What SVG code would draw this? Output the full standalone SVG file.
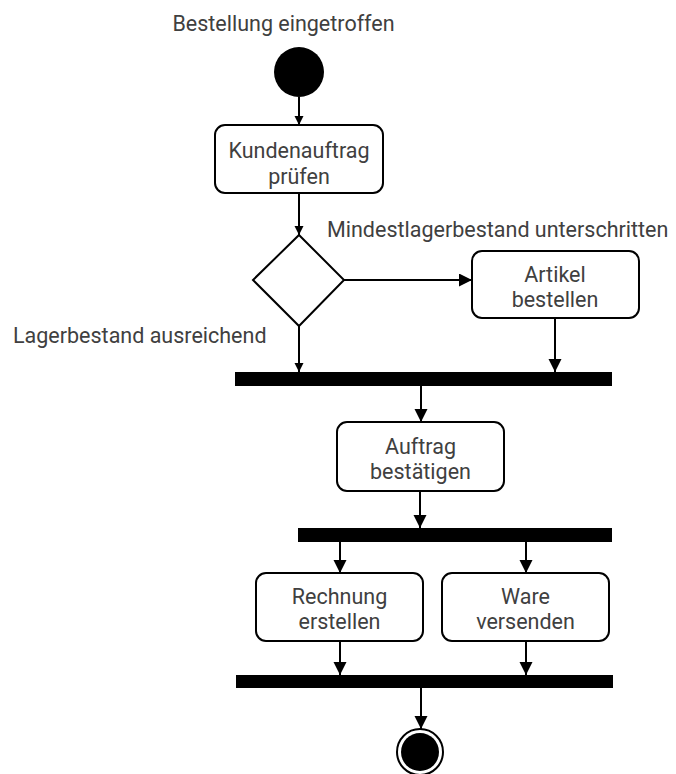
<svg xmlns="http://www.w3.org/2000/svg" width="676" height="774" viewBox="0 0 676 774">
<defs>
<style>
.t{font-family:Roboto,"Liberation Sans",sans-serif;font-size:21.5px;fill:#404040;text-anchor:middle}
.tl{font-family:Roboto,"Liberation Sans",sans-serif;font-size:21.5px;fill:#404040}
.box{fill:#fff;stroke:#000;stroke-width:2}
.c{stroke:#000;stroke-width:2;fill:none}
.bar{fill:#000}
</style>
<marker id="s" markerUnits="userSpaceOnUse" markerWidth="10" markerHeight="10" refX="9" refY="4.5" orient="auto"><path d="M0,0 L9,4.5 L0,9 Z" fill="#000"/></marker>
<marker id="l" markerUnits="userSpaceOnUse" markerWidth="14" markerHeight="14" refX="13" refY="6.5" orient="auto"><path d="M0,0 L13,6.5 L0,13 Z" fill="#000"/></marker>
</defs>
<rect width="676" height="774" fill="#fff"/>
<g id="labels">
<text class="t" x="283.5" y="31">Bestellung eingetroffen</text>
<text class="tl" x="327" y="237">Mindestlagerbestand unterschritten</text>
<text class="tl" x="13" y="343">Lagerbestand ausreichend</text>
</g>
<g id="start"><circle cx="299" cy="72" r="25" fill="#000"/></g>
<g id="kunden"><rect class="box" x="215" y="125" width="168" height="68" rx="10"/><text class="t" x="299" y="158">Kundenauftrag</text><text class="t" x="299" y="183.5">prüfen</text></g>
<g id="decision"><polygon points="299,235 344,280 299,326 253,280" fill="#fff" stroke="#000" stroke-width="2"/></g>
<g id="artikel"><rect class="box" x="472" y="251" width="167" height="67" rx="10"/><text class="t" x="555" y="281.5">Artikel</text><text class="t" x="555" y="307">bestellen</text></g>
<g id="join1"><rect class="bar" x="235" y="372" width="377" height="14"/></g>
<g id="auftrag"><rect class="box" x="337" y="422" width="167" height="69" rx="10"/><text class="t" x="420.5" y="453.5">Auftrag</text><text class="t" x="420.5" y="479">bestätigen</text></g>
<g id="fork"><rect class="bar" x="298" y="528" width="314" height="14"/></g>
<g id="rechnung"><rect class="box" x="256" y="573" width="167" height="68" rx="10"/><text class="t" x="339.5" y="603.5">Rechnung</text><text class="t" x="339.5" y="629">erstellen</text></g>
<g id="ware"><rect class="box" x="442" y="573" width="167" height="68" rx="10"/><text class="t" x="525.5" y="603.5">Ware</text><text class="t" x="525.5" y="629">versenden</text></g>
<g id="join2"><rect class="bar" x="236" y="675" width="377" height="13"/></g>
<g id="end"><circle cx="420" cy="752" r="23" fill="#fff" stroke="#000" stroke-width="2"/><circle cx="420" cy="752" r="19" fill="#000"/></g>
<g id="connectors">
<line class="c" x1="299" y1="97" x2="299" y2="125" marker-end="url(#s)"/>
<line class="c" x1="299" y1="193" x2="299" y2="235" marker-end="url(#s)"/>
<line class="c" x1="344" y1="280" x2="472" y2="280" marker-end="url(#l)"/>
<line class="c" x1="299" y1="326" x2="299" y2="372" marker-end="url(#s)"/>
<line class="c" x1="555" y1="318" x2="555" y2="372" marker-end="url(#l)"/>
<line class="c" x1="421" y1="386" x2="421" y2="422" marker-end="url(#l)"/>
<line class="c" x1="420" y1="491" x2="420" y2="528" marker-end="url(#l)"/>
<line class="c" x1="340" y1="542" x2="340" y2="573" marker-end="url(#l)"/>
<line class="c" x1="526" y1="542" x2="526" y2="573" marker-end="url(#l)"/>
<line class="c" x1="340" y1="641" x2="340" y2="675" marker-end="url(#l)"/>
<line class="c" x1="526" y1="641" x2="526" y2="675" marker-end="url(#l)"/>
<line class="c" x1="421" y1="688" x2="421" y2="729" marker-end="url(#l)"/>
</g>
</svg>
